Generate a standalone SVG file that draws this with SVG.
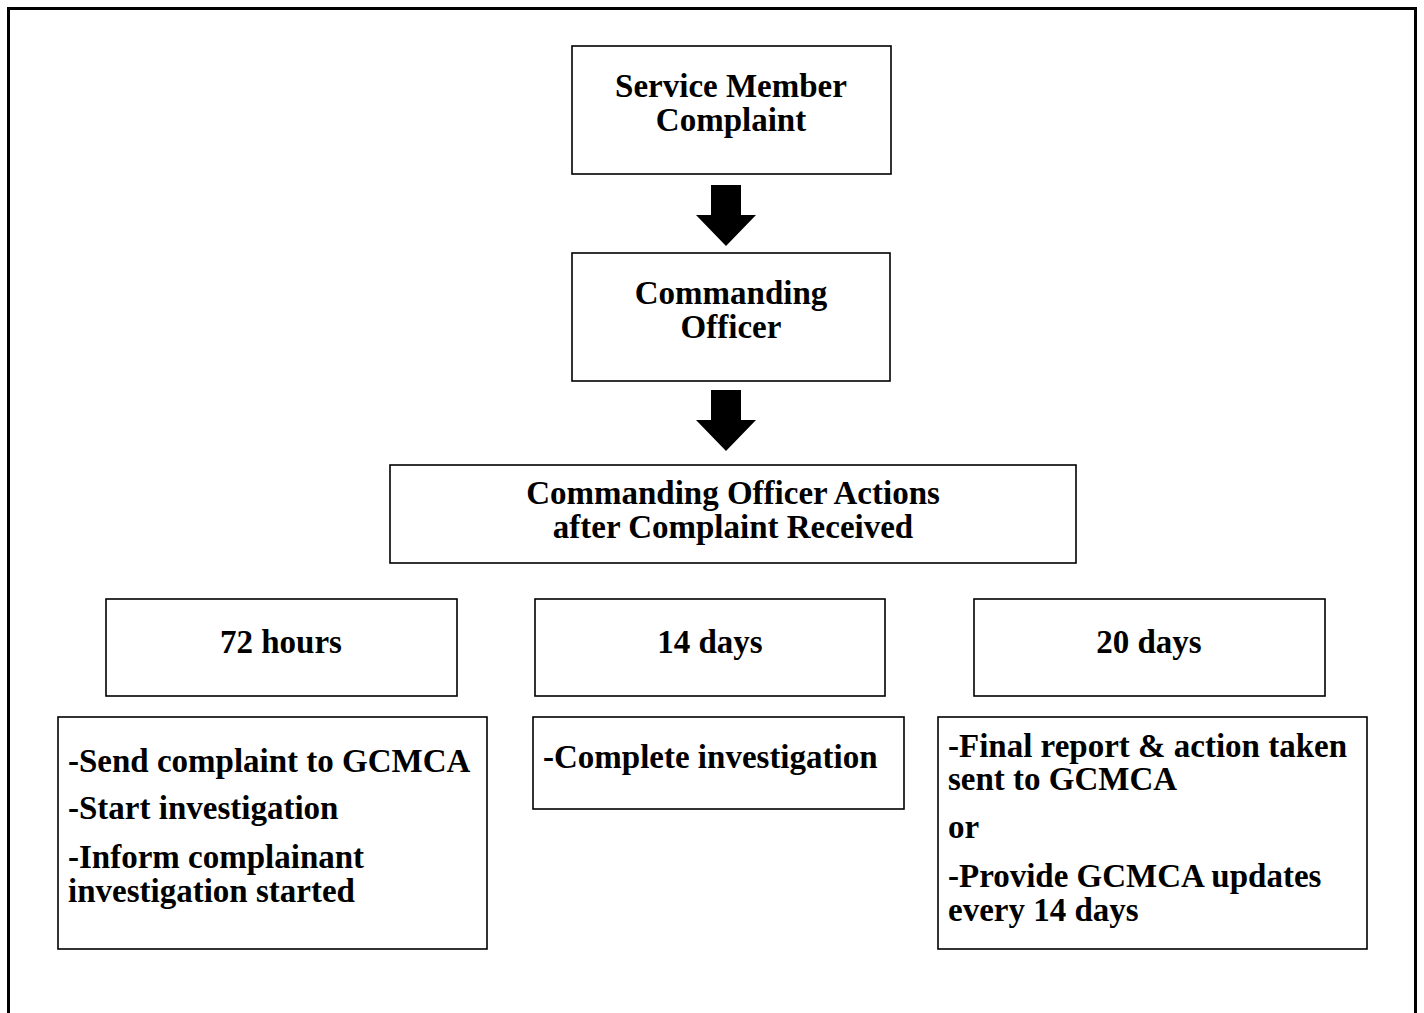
<svg xmlns="http://www.w3.org/2000/svg" width="1424" height="1013" viewBox="0 0 1424 1013">
  <style>
    .box { fill: #ffffff; stroke: #000000; stroke-width: 1.6; }
    .frame { fill: none; stroke: #000000; stroke-width: 3; }
    .arrow { fill: #000000; stroke: none; }
    text { font-family: "Liberation Serif", "Times New Roman", serif; font-weight: bold; font-size: 33px; fill: #000000; }
    .c { text-anchor: middle; }
  </style>
  <rect width="1424" height="1013" fill="#ffffff"/>
  <!-- outer page frame, open at the bottom edge -->
  <path class="frame" d="M8.5,1020 V8.5 H1415.5 V1020"/>

  <g id="connectors">
    <polygon class="arrow" points="711,185 741,185 741,215 756,215 726,246 696,215 711,215"/>
    <polygon class="arrow" points="711,390 741,390 741,420 756,420 726,451 696,420 711,420"/>
  </g>

  <g id="service-member-complaint">
    <rect class="box" x="572" y="46" width="319" height="128"/>
    <text class="c" x="731" y="97">Service Member</text>
    <text class="c" x="731" y="131">Complaint</text>
  </g>

  <g id="commanding-officer">
    <rect class="box" x="572" y="253" width="318" height="128"/>
    <text class="c" x="731" y="304">Commanding</text>
    <text class="c" x="731" y="338">Officer</text>
  </g>

  <g id="co-actions">
    <rect class="box" x="390" y="465" width="686" height="98"/>
    <text class="c" x="733" y="504">Commanding Officer Actions</text>
    <text class="c" x="733" y="538">after Complaint Received</text>
  </g>

  <g id="hours-72">
    <rect class="box" x="106" y="599" width="351" height="97"/>
    <text class="c" x="281" y="653">72 hours</text>
  </g>

  <g id="days-14">
    <rect class="box" x="535" y="599" width="350" height="97"/>
    <text class="c" x="710" y="653">14 days</text>
  </g>

  <g id="days-20">
    <rect class="box" x="974" y="599" width="351" height="97"/>
    <text class="c" x="1149" y="653">20 days</text>
  </g>

  <g id="hours-72-actions">
    <rect class="box" x="58" y="717" width="429" height="232"/>
    <text x="68" y="772">-Send complaint to GCMCA</text>
    <text x="68" y="819">-Start investigation</text>
    <text x="68" y="868">-Inform complainant</text>
    <text x="68" y="902">investigation started</text>
  </g>

  <g id="days-14-actions">
    <rect class="box" x="533" y="717" width="371" height="92"/>
    <text x="543" y="768">-Complete investigation</text>
  </g>

  <g id="days-20-actions">
    <rect class="box" x="938" y="717" width="429" height="232"/>
    <text x="948" y="757">-Final report &amp; action taken</text>
    <text x="948" y="790">sent to GCMCA</text>
    <text x="948" y="838">or</text>
    <text x="948" y="887">-Provide GCMCA updates</text>
    <text x="948" y="921">every 14 days</text>
  </g>
</svg>
